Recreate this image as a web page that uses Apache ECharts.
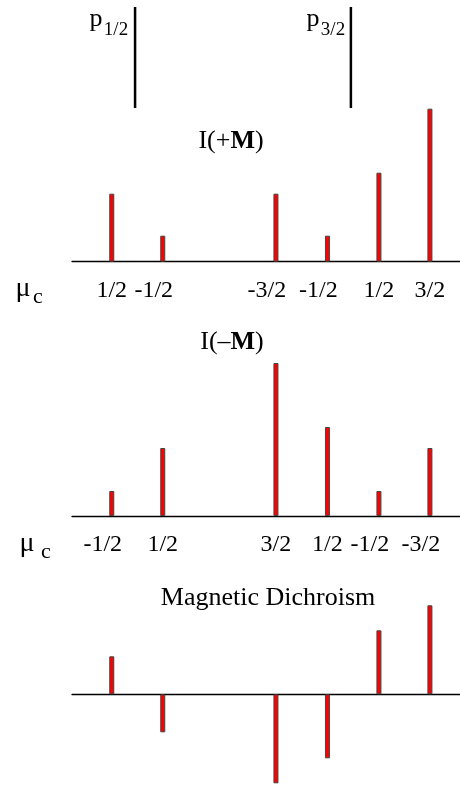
<!DOCTYPE html>
<html>
<head>
<meta charset="utf-8">
<script src="https://cdn.jsdelivr.net/npm/echarts@6/dist/echarts.min.js"></script>
<style>
html,body{margin:0;padding:0;background:#fff;}
#c{width:460px;height:786px;}
</style>
</head>
<body>
<div id="c"></div>
<script>
// ---- data ----
const xPos = [0, 1, 3.22, 4.23, 5.24, 6.24];
const plusM = [68, 26, 68, 26, 89, 153];
const minusM = [25, 68, 153, 89, 25, 68];
const dichroism = [38, -38, -89, -64, 64, 89];
const plusLabels = ['1/2', '-1/2', '-3/2', '-1/2', '1/2', '3/2'];
const minusLabels = ['-1/2', '1/2', '3/2', '1/2', '-1/2', '-3/2'];
const edgePos = [0.457, 4.69];
const edgeNames = ['1/2', '3/2'];
const titleParts = [['I(+', 'M', ')'], ['I(\u2013', 'M', ')']];
const dichroismTitle = 'Magnetic Dichroism';
const muLabel = ['\u03bc', 'c'];

const FONT = "'Liberation Serif', 'Times New Roman', serif";
const X_MIN = -0.78, X_MAX = 6.83;

function labelFor(labels) {
  return function (v) {
    let best = 0, bd = Infinity;
    xPos.forEach((p, i) => { const d = Math.abs(p - v); if (d < bd) { bd = d; best = i; } });
    const s = labels[best];
    return s.charAt(0) === '-' ? '{m|' + s + '}' : '{n|' + s + '}';
  };
}

function xAxisDef(gridIndex, labels, showLine) {
  const base = { fontFamily: FONT, fontSize: 24, color: '#000' };
  return {
    type: 'value', gridIndex, min: X_MIN, max: X_MAX,
    splitLine: { show: false },
    axisTick: { show: false },
    axisLine: { show: showLine, onZero: true, lineStyle: { color: '#000', width: 1.3 } },
    axisLabel: labels ? Object.assign({
      show: true, customValues: xPos, formatter: labelFor(labels),
      margin: 17, showMinLabel: true, showMaxLabel: true, hideOverlap: false,
      rich: {
        m: Object.assign({ padding: [0, 18, 0, 0] }, base),
        n: Object.assign({}, base)
      }
    }, base) : { show: false }
  };
}
function yAxisDef(gridIndex, min, max) {
  return { type: 'value', gridIndex, min, max, show: false, splitLine: { show: false } };
}
function barSeries(idx, vals) {
  return {
    type: 'bar', xAxisIndex: idx, yAxisIndex: idx, barWidth: 5,
    itemStyle: { color: '#ff0000', borderColor: '#444', borderWidth: 1 },
    data: xPos.map((x, i) => [x, vals[i]]),
    silent: true, animation: false
  };
}

const edgeSeries = edgePos.map(x => ({
  type: 'line', xAxisIndex: 0, yAxisIndex: 0, symbol: 'none',
  lineStyle: { color: '#000', width: 2.5 }, animation: false, silent: true,
  data: [[x, 0], [x, 1]]
}));

const ctx = document.createElement('canvas').getContext('2d');
function w(t, size, bold) { ctx.font = (bold ? 'bold ' : '') + size + 'px ' + FONT; return ctx.measureText(t).width; }
function T(text, x, y, size, opts) {
  opts = opts || {};
  return {
    type: 'text', x, y, silent: true,
    style: {
      text, fontFamily: FONT, fontSize: size, fill: '#000',
      fontWeight: opts.bold ? 'bold' : 'normal',
      align: opts.align || 'center', verticalAlign: 'middle'
    }
  };
}
function composed(parts, cx, cy) {
  const [a, b, c] = parts;
  const total = w(a, 26) + w(b, 26, true) + w(c, 26);
  const x0 = cx - total / 2;
  return [
    T(a, x0, cy, 26, { align: 'left' }),
    T(b, x0 + w(a, 26), cy, 26, { align: 'left', bold: true }),
    T(c, x0 + w(a, 26) + w(b, 26, true), cy, 26, { align: 'left' })
  ];
}

const chart = echarts.init(document.getElementById('c'), null, { renderer: 'canvas' });
chart.setOption({
  animation: false,
  backgroundColor: '#fff',
  grid: [
    { left: 72, right: 0, top: 7, height: 101 },
    { left: 72, right: 0, top: 101.7, height: 160 },
    { left: 72, right: 0, top: 356, height: 160 },
    { left: 72, right: 0, top: 604.3, height: 180 }
  ],
  xAxis: [
    xAxisDef(0, null, false),
    xAxisDef(1, plusLabels, true),
    xAxisDef(2, minusLabels, true),
    xAxisDef(3, null, true)
  ],
  yAxis: [
    yAxisDef(0, 0, 1),
    yAxisDef(1, 0, 160),
    yAxisDef(2, 0, 160),
    yAxisDef(3, -90, 90)
  ],
  series: [
    ...edgeSeries,
    barSeries(1, plusM),
    barSeries(2, minusM),
    barSeries(3, dichroism)
  ],
  graphic: [
    T('p', 96, 19, 26),
    T(edgeNames[0], 116, 30, 19),
    T('p', 313, 19, 26),
    T(edgeNames[1], 333, 30, 19),
    ...composed(titleParts[0], 231, 141),
    ...composed(titleParts[1], 232, 342),
    T(muLabel[0], 23, 289, 28),
    T(muLabel[1], 38, 297, 22),
    T(muLabel[0], 27, 544, 28),
    T(muLabel[1], 46, 552, 22),
    T(dichroismTitle, 268, 598, 26)
  ]
});
</script>
</body>
</html>
